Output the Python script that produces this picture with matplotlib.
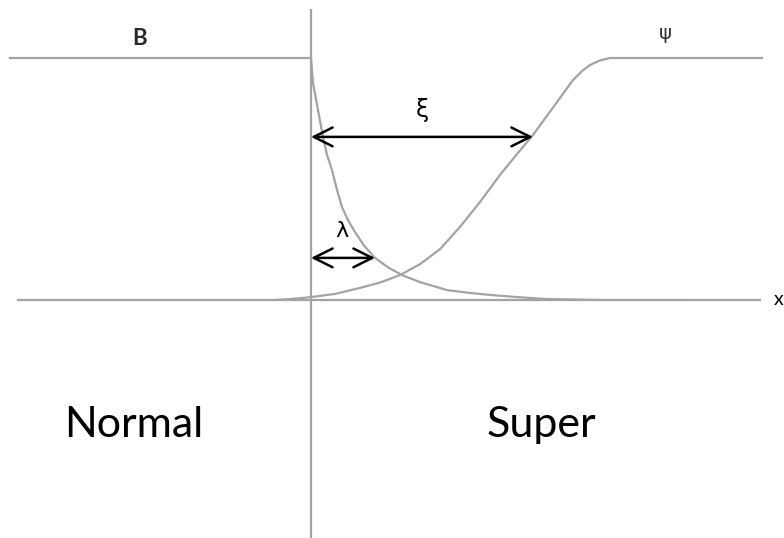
import matplotlib.pyplot as plt

# position relative to the N/S interface, and field / order-parameter amplitude (1 = full)
b_x = [0.00, 0.02, 0.05, 0.07, 0.12, 0.16, 0.21, 0.26, 0.31, 0.37, 0.44, 0.53, 0.64, 0.77,
       0.91, 1.09, 1.36, 1.57, 1.79, 2.06, 2.36, 2.89, 3.69]
b_amp = [1.000, 0.897, 0.830, 0.785, 0.674, 0.600, 0.537, 0.455, 0.384, 0.330, 0.281, 0.225,
         0.174, 0.135, 0.103, 0.074, 0.041, 0.030, 0.021, 0.012, 0.004, 0.0, 0.0]

psi_x = [-0.36, -0.20, 0.00, 0.24, 0.49, 0.69, 0.89, 1.09, 1.29, 1.49, 1.69, 1.89, 2.06,
         2.22, 2.46, 2.62, 2.71, 2.79, 2.89, 2.99, 4.51]
psi_amp = [0.0, 0.004, 0.012, 0.025, 0.050, 0.072, 0.103, 0.148, 0.210, 0.302, 0.405, 0.517,
           0.603, 0.682, 0.818, 0.909, 0.946, 0.971, 0.990, 1.0, 1.0]

b_normal_x = [-3.01, 0.0]
b_normal_amp = [1.0, 1.0]

xi = 2.22        # coherence length
lam = 0.64       # penetration depth
xi_level = 0.674
lam_level = 0.174

gray = '#a3a3a3'
font = 'Lato'

fig = plt.figure(figsize=(7.84, 5.38), dpi=100)
ax = fig.add_axes([0, 0, 1, 1])
ax.set_xlim(-3.11, 4.73)
ax.set_ylim(-0.9835, 1.2397)
ax.axis('off')

# axes of the sketch
ax.plot([-2.93, 4.49], [0, 0], color=gray, lw=1.6)
ax.plot([0, 0], [-0.99, 1.198], color=gray, lw=1.6)

# B in the normal side, then its decay into the superconductor
ax.plot(b_normal_x, b_normal_amp, color=gray, lw=1.6)
ax.plot(b_x, b_amp, color=gray, lw=1.6, solid_joinstyle='round')
ax.plot(psi_x, psi_amp, color=gray, lw=1.6, solid_joinstyle='round')

arrow = dict(arrowstyle='<->,head_length=0.9,head_width=0.45', lw=1.8,
             color='black', mutation_scale=15, shrinkA=0, shrinkB=0)
ax.annotate('', xy=(xi, xi_level), xytext=(0, xi_level), arrowprops=arrow)
ax.annotate('', xy=(lam, lam_level), xytext=(0, lam_level), arrowprops=arrow)

ax.text(-1.71, 1.054, 'B', fontsize=16, family=font, fontweight='bold', ha='center',
        va='baseline', color='#2a2a2a')
ax.text(3.54, 1.10, 'ψ', fontsize=14, family='DejaVu Sans', ha='center', va='center', color='#333333')
ax.text(1.11, 0.785, 'ξ', fontsize=17, family='DejaVu Sans', ha='center', va='center')
ax.text(0.31, 0.285, 'λ', fontsize=16, family='DejaVu Sans', ha='center', va='center')
ax.text(4.63, 0.0, 'x', fontsize=14, family=font, ha='left', va='center')

ax.text(-1.77, -0.566, 'Normal', fontsize=31, family=font, ha='center', va='baseline')
ax.text(2.30, -0.566, 'Super', fontsize=31, family=font, ha='center', va='baseline')

fig.savefig('out.png', dpi=100)
